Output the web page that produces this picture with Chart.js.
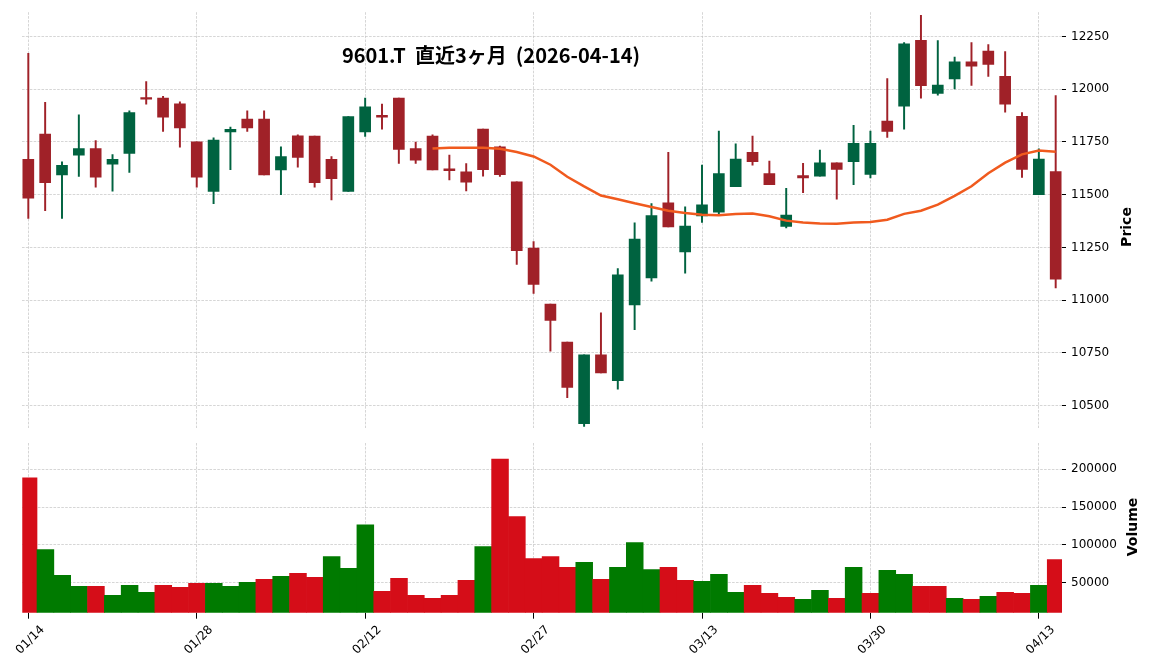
<!DOCTYPE html>
<html>
<head>
<meta charset="utf-8">
<script src="https://cdn.jsdelivr.net/npm/chart.js@4"></script>
<style>
  body { margin: 0; background: #fff; }
  #wrap { position: relative; width: 1152px; height: 670px; overflow: hidden; }
  canvas { position: absolute; left: 0; }
  .lbl { position: absolute; color: #000; white-space: pre; }
  #title { left: 241px; top: 45px; width: 500px; text-align: center; font: bold 20px "Noto Sans CJK JP"; line-height: 20px; }
  .ytitle { font: bold 14px "DejaVu Sans"; transform: translate(-50%, -50%) rotate(-90deg); line-height: 16px; }
</style>
</head>
<body>
<div id="wrap">
  <canvas id="cPrice" width="1152" height="440" style="top:0"></canvas>
  <canvas id="cVol" width="1152" height="250" style="top:420px"></canvas>
  <div id="title" class="lbl">9601.T  直近3ヶ月  (2026-04-14)</div>
  <div class="lbl ytitle" style="left:1126px; top:227px">Price</div>
  <div class="lbl ytitle" style="left:1132px; top:527px">Volume</div>
</div>
<script>
// 取引日（2026-01-14 〜 2026-04-14）
const dates = [
  "01/14","01/15","01/16","01/19","01/20","01/21","01/22","01/23","01/26","01/27",
  "01/28","01/29","01/30","02/02","02/03","02/04","02/05","02/06","02/09","02/10",
  "02/12","02/13","02/16","02/17","02/18","02/19","02/20","02/24","02/25","02/26",
  "02/27","03/02","03/03","03/04","03/05","03/06","03/09","03/10","03/11","03/12",
  "03/13","03/16","03/17","03/18","03/19","03/23","03/24","03/25","03/26","03/27",
  "03/30","03/31","04/01","04/02","04/03","04/06","04/07","04/08","04/09","04/10",
  "04/13","04/14"
];

const opens = [
  11667, 11787, 11594, 11687, 11718, 11645, 11696, 11960, 11958, 11931,
  11750, 11516, 11798, 11858, 11858, 11617, 11779, 11778, 11667, 11516,
  11798, 11876, 11958, 11718, 11778, 11623, 11608, 11811, 11727, 11561,
  11247, 10981, 10801, 10415, 10741, 10618, 10978, 11106, 11461, 11229,
  11399, 11417, 11538, 11701, 11600, 11349, 11591, 11588, 11651, 11657,
  11596, 11849, 11920, 12232, 11980, 12049, 12130, 12181, 12061, 11872,
  11500, 11609
];
const highs = [
  12170, 11938, 11656, 11878, 11756, 11690, 11897, 12036, 11966, 11940,
  11750, 11769, 11820, 11898, 11898, 11727, 11784, 11778, 11681, 11870,
  11958, 11929, 11958, 11749, 11784, 11688, 11648, 11811, 11730, 11561,
  11278, 10981, 10801, 10741, 10940, 11150, 11367, 11458, 11701, 11442,
  11640, 11801, 11741, 11778, 11659, 11530, 11649, 11711, 11651, 11829,
  11801, 12050, 12221, 12350, 12230, 12152, 12221, 12212, 12178, 11889,
  11717, 11970
];
const lows = [
  11388, 11424, 11388, 11586, 11536, 11517, 11605, 11929, 11800, 11725,
  11536, 11457, 11619, 11800, 11594, 11500, 11630, 11536, 11475, 11516,
  11776, 11810, 11648, 11648, 11617, 11570, 11518, 11588, 11586, 11169,
  11032, 10758, 10538, 10402, 10655, 10578, 10860, 11090, 11347, 11128,
  11369, 11409, 11538, 11640, 11547, 11342, 11510, 11588, 11479, 11548,
  11580, 11771, 11811, 11958, 11972, 12001, 12018, 12060, 11891, 11582,
  11500, 11058
];
const closes = [
  11483, 11557, 11639, 11718, 11583, 11667, 11889, 11953, 11867, 11816,
  11583, 11759, 11810, 11816, 11594, 11681, 11677, 11557, 11576, 11870,
  11917, 11867, 11715, 11664, 11617, 11614, 11559, 11618, 11595, 11235,
  11075, 10904, 10586, 10741, 10655, 11120, 11290, 11401, 11347, 11351,
  11452, 11600, 11669, 11657, 11547, 11403, 11580, 11651, 11620, 11743,
  11743, 11800, 12215, 12017, 12020, 12130, 12109, 12118, 11929, 11620,
  11669, 11100
];

// 25日移動平均（チャートから読み取り）
const ma25 = [
  null, null, null, null, null, null, null, null, null, null,
  null, null, null, null, null, null, null, null, null, null,
  null, null, null, null, 11719, 11723, 11723, 11722, 11718, 11702,
  11681, 11642, 11585, 11539, 11496, 11478, 11459, 11442, 11424, 11413,
  11405, 11403, 11408, 11411, 11398, 11377, 11368, 11363, 11362, 11368,
  11370, 11381, 11409, 11424, 11453, 11494, 11540, 11602, 11652, 11691,
  11709, 11703
];

const volumes = [
  188600, 93900, 59600, 45200, 45200, 33300, 46500, 37300, 46500, 43900,
  49100, 49100, 45200, 50400, 54400, 58300, 62300, 57000, 84600, 68900,
  126700, 38600, 55700, 33300, 29400, 33300, 53100, 97800, 213600, 137300,
  82000, 84600, 70200, 76800, 54400, 70200, 103100, 67500, 70200, 53100,
  51700, 61000, 37300, 46500, 36000, 30700, 28100, 39900, 29400, 70200,
  36000, 66200, 61000, 45200, 45200, 29400, 28100, 32000, 37300, 36000,
  46500, 80700
];
// 出来高の色（前日比）: u = 上昇, d = 下落
const volDir = [
  "d","u","u","u","d","u","u","u","d","d",
  "d","u","u","u","d","u","d","d","u","u",
  "u","d","d","d","d","d","d","u","d","d",
  "d","d","d","u","d","u","u","u","d","d",
  "u","u","u","d","d","d","u","u","d","u",
  "d","u","u","d","d","u","d","u","d","d",
  "u","d"
];

const priceTicks = [10500, 10750, 11000, 11250, 11500, 11750, 12000, 12250];
const volTicks = [50000, 100000, 150000, 200000];
const dateTicks = [0, 10, 20, 30, 40, 50, 60];

const UP = "#006340", DOWN = "#a02128";
const VUP = "#007a00", VDOWN = "#d50d18";

Chart.defaults.font.family = "DejaVu Sans";
Chart.defaults.font.size = 12;
Chart.defaults.color = "#000";
Chart.defaults.animation = false;

const candleCol = opens.map((o, i) => closes[i] >= o ? UP : DOWN);

const gridStyle = { color: "#c4c4c4", lineWidth: 0.7, tickColor: "#000", tickLength: 4, tickWidth: 1, offset: false };
const dashed = { display: false, dash: [2.6, 1.3] };

const xBase = {
  type: "linear",
  min: -0.375,
  max: 61.375,
  offset: false,
  afterBuildTicks: s => { s.ticks = dateTicks.map(v => ({ value: v })); }
};

function yAxis(min, max, ticks) {
  return {
    type: "linear",
    position: "right",
    min, max,
    grid: gridStyle,
    border: dashed,
    ticks: { padding: 5, callback: v => String(v) },
    afterBuildTicks: s => { s.ticks = ticks.map(v => ({ value: v })); },
    afterFit: s => { s.width = 90; }
  };
}

new Chart(document.getElementById("cPrice"), {
  type: "bar",
  data: {
    datasets: [
      {
        type: "line",
        data: ma25.map((v, i) => ({ x: i, y: v })).filter(p => p.y !== null),
        borderColor: "#f05a1e",
        borderWidth: 2.5,
        pointRadius: 0,
        tension: 0,
        order: 0
      },
      {
        data: opens.map((o, i) => ({ x: i, y: [o, closes[i]] })),
        backgroundColor: candleCol,
        barThickness: 11,
        grouped: false,
        order: 1
      },
      {
        data: lows.map((l, i) => ({ x: i, y: [l, highs[i]] })),
        backgroundColor: candleCol,
        barThickness: 1.3,
        grouped: false,
        order: 2
      }
    ]
  },
  options: {
    responsive: false,
    layout: { padding: { left: 22, right: 0, top: 11, bottom: 2 } },
    plugins: { legend: { display: false }, tooltip: { enabled: false } },
    scales: {
      x: Object.assign({}, xBase, {
        grid: Object.assign({}, gridStyle, { drawTicks: false }),
        border: dashed,
        ticks: { display: false },
        afterFit: s => { s.height = 0; }
      }),
      y: yAxis(10395, 12365, priceTicks)
    }
  }
});

new Chart(document.getElementById("cVol"), {
  type: "bar",
  data: {
    datasets: [{
      data: volumes.map((v, i) => ({ x: i, y: v })),
      backgroundColor: volDir.map(d => d === "u" ? VUP : VDOWN),
      barPercentage: 1,
      categoryPercentage: 1
    }]
  },
  options: {
    responsive: false,
    layout: { padding: { left: 22, right: 0, top: 23, bottom: 0 } },
    plugins: { legend: { display: false }, tooltip: { enabled: false } },
    scales: {
      x: Object.assign({}, xBase, {
        grid: Object.assign({}, gridStyle, { tickLength: 6 }),
        border: dashed,
        ticks: {
          minRotation: 45, maxRotation: 45, padding: 4, labelOffset: 14,
          callback: v => dates[v] || ""
        },
        afterFit: s => { s.height = 57.3; }
      }),
      y: yAxis(10300, 234800, volTicks)
    }
  }
});
</script>
</body>
</html>
